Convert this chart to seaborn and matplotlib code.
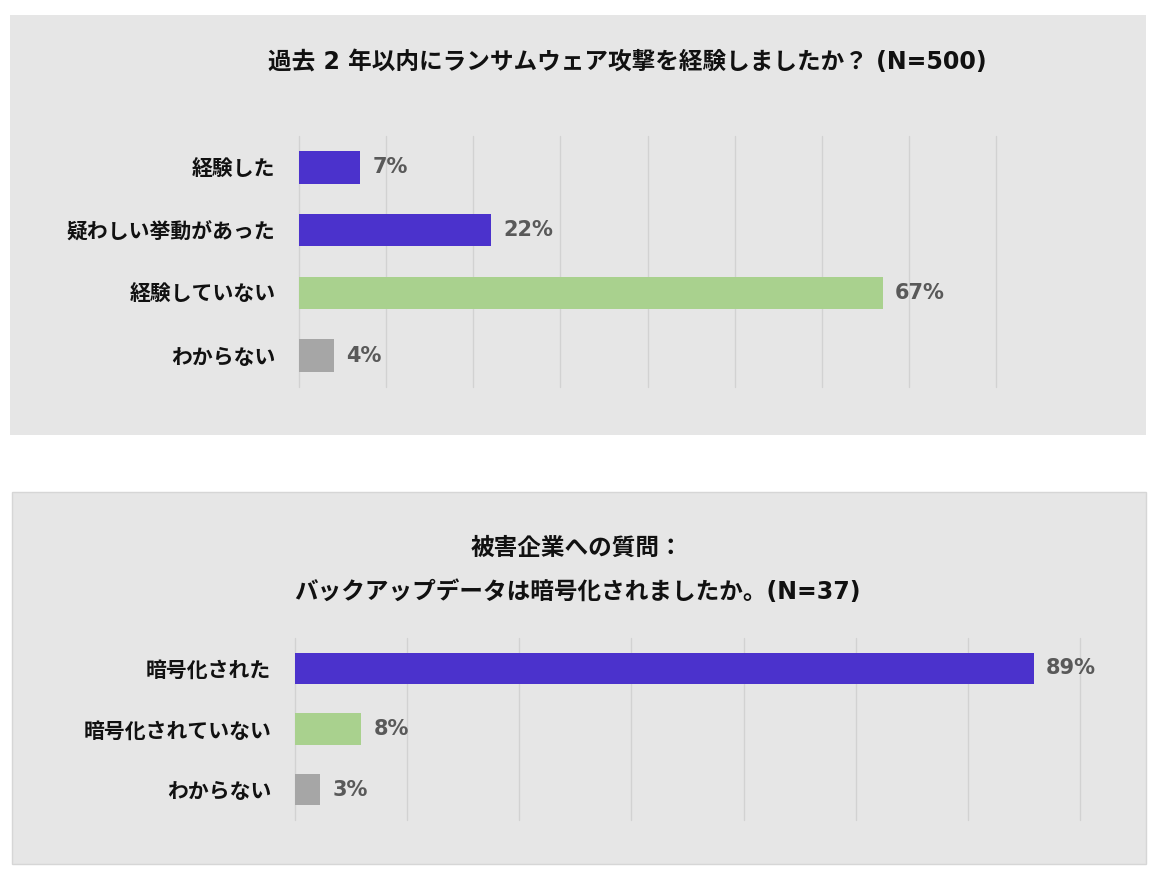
import matplotlib
matplotlib.use("Agg")
import matplotlib.pyplot as plt
from matplotlib.patches import Rectangle
import seaborn as sns

# data
q1_title = "過去 2 年以内にランサムウェア攻撃を経験しましたか？ (N=500)"
q1_cats = ["経験した", "疑わしい挙動があった", "経験していない", "わからない"]
q1_vals = [7, 22, 67, 4]
q1_colors = ["#4b32cc", "#4b32cc", "#a9d18e", "#a6a6a6"]

q2_title1 = "被害企業への質問："
q2_title2 = "バックアップデータは暗号化されましたか。(N=37)"
q2_cats = ["暗号化された", "暗号化されていない", "わからない"]
q2_vals = [89, 8, 3]
q2_colors = ["#4b32cc", "#a9d18e", "#a6a6a6"]
q2_n = 37

panel_col = "#e6e6e6"
grid_col = "#d2d2d2"

sns.set_style("white")
plt.rcParams['font.family'] = ['DejaVu Sans', 'Noto Sans CJK JP']

W, H = 1158, 874
fig = plt.figure(figsize=(W / 100, H / 100), dpi=100)
fig.patch.set_facecolor("white")

def px_rect(x0, y0, x1, y1):
    return [x0 / W, 1 - y1 / H, (x1 - x0) / W, (y1 - y0) / H]

# gray panels behind each chart
r1 = px_rect(10, 15, 1146, 435)
fig.patches.append(Rectangle((r1[0], r1[1]), r1[2], r1[3], transform=fig.transFigure,
                             facecolor=panel_col, edgecolor="none", zorder=-5))
r2 = px_rect(12, 492, 1146, 864)
fig.patches.append(Rectangle((r2[0], r2[1]), r2[2], r2[3], transform=fig.transFigure,
                             facecolor=panel_col, edgecolor="#d6d6d6", lw=1, zorder=-5))

ax1 = fig.add_axes(px_rect(299, 136, 996, 387))
ax2 = fig.add_axes(px_rect(295, 638, 1080, 820))


def draw(ax, cats, vals, colors, grid, xmax):
    sns.barplot(x=vals, y=cats, hue=cats, palette=colors, legend=False,
                width=0.52, saturation=1, linewidth=0, ax=ax, zorder=3)
    ax.set_facecolor("none")
    ax.set_xlim(0, xmax)
    ax.set_ylim(len(cats) - 0.5, -0.5)
    for g in grid:
        ax.axvline(g, color=grid_col, lw=1, zorder=1, clip_on=False)
    for s in ax.spines.values():
        s.set_visible(False)
    ax.set_xticks([])
    ax.set_xlabel("")
    ax.set_ylabel("")
    ax.tick_params(axis="y", length=0, pad=17)
    for lab in ax.get_yticklabels():
        lab.set_fontfamily(['Noto Sans CJK JP'])
        lab.set_fontweight("bold")
        lab.set_fontsize(15)
        lab.set_color("#111111")
    for c in ax.containers:
        ax.bar_label(c, labels=[f"{v:.0f}%" for v in c.datavalues], padding=9,
                     fontsize=15, fontweight="bold", color="#595959")


draw(ax1, q1_cats, q1_vals, q1_colors, range(0, 81, 10), 80)
step2 = 100 * 5 / q2_n
draw(ax2, q2_cats, q2_vals, q2_colors, [step2 * i for i in range(8)], step2 * 7)

fig.text(627 / W, 1 - 62 / H, q1_title, ha="center", va="center",
         fontsize=17, fontweight="bold", color="#111111")
fig.text(577 / W, 1 - 548 / H, q2_title1, ha="center", va="center",
         fontsize=17, fontweight="bold", color="#111111")
fig.text(577 / W, 1 - 592 / H, q2_title2, ha="center", va="center",
         fontsize=17, fontweight="bold", color="#111111")

fig.savefig("out.png", dpi=100, facecolor="white")
